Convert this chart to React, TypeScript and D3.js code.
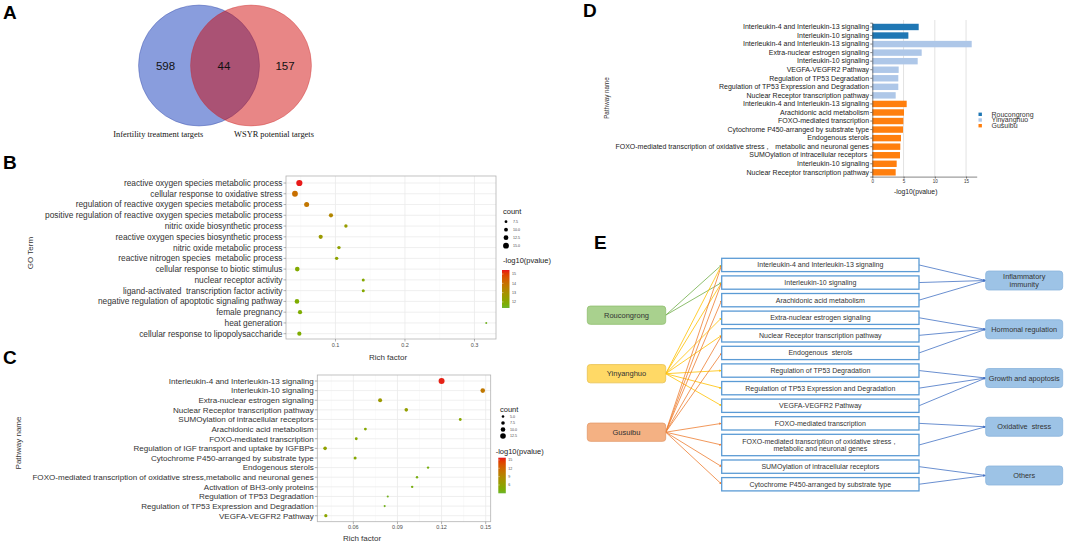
import { useEffect, useRef } from "react";
import * as d3 from "d3";

const SANS = "Arial, 'Liberation Sans', sans-serif";
const SERIF = "'Times New Roman', 'Liberation Serif', serif";

// ---------- A: Venn ----------
const vennLabels = ["Infertility treatment targets", "WSYR potential targets"];
const vennCounts = [598, 44, 157]; // left only, shared, right only

// ---------- B: GO terms ----------
const goTerms = [
	"reactive oxygen species metabolic process",
	"cellular response to oxidative stress",
	"regulation of reactive oxygen species metabolic process",
	"positive regulation of reactive oxygen species metabolic process",
	"nitric oxide biosynthetic process",
	"reactive oxygen species biosynthetic process",
	"nitric oxide metabolic process",
	"reactive nitrogen species  metabolic process",
	"cellular response to biotic stimulus",
	"nuclear receptor activity",
	"ligand-activated  transcription factor activity",
	"negative regulation of apoptotic signaling pathway",
	"female pregnancy",
	"heat generation",
	"cellular response to lipopolysaccharide",
];
const goRich = [0.048, 0.0417, 0.0585, 0.0935, 0.115, 0.0787, 0.105, 0.1017, 0.045, 0.14, 0.14, 0.0446, 0.049, 0.317, 0.048];
const goCount = [16, 15, 13, 11, 9, 11, 9, 9, 12, 8, 8, 12, 11, 5.5, 11];
const goLogP = [15.4, 14.0, 13.8, 13.3, 12.5, 12.6, 12.3, 12.2, 11.9, 12.0, 12.0, 11.8, 11.8, 11.5, 11.8];
const goCountTicks = [7.5, 10.0, 12.5, 15.0];
const goLogPTicks = [12, 13, 14, 15];

// ---------- C: pathways ----------
const pathNames = [
	"Interleukin-4 and Interleukin-13 signaling",
	"Interleukin-10 signaling",
	"Extra-nuclear estrogen signaling",
	"Nuclear Receptor transcription pathway",
	"SUMOylation of intracellular receptors",
	"Arachidonic acid metabolism",
	"FOXO-mediated transcription",
	"Regulation of IGF transport and uptake by IGFBPs",
	"Cytochrome P450-arranged by substrate type",
	"Endogenous sterols",
	"FOXO-mediated transcription of oxidative stress,metabolic and neuronal genes",
	"Activation of BH3-only proteins",
	"Regulation of TP53 Degradation",
	"Regulation of TP53 Expression and Degradation",
	"VEGFA-VEGFR2 Pathway",
];
const pathRich = [0.12, 0.148, 0.0782, 0.096, 0.1327, 0.0682, 0.062, 0.0408, 0.0612, 0.1108, 0.1033, 0.1, 0.0834, 0.0813, 0.0413];
const pathCount = [13.5, 10, 8.5, 7.5, 5.5, 5.5, 5.5, 7.5, 6, 4.5, 4.5, 4.5, 3.8, 3.8, 6.5];
const pathLogP = [15.5, 10.5, 7, 6.2, 5.2, 5, 5, 6, 5, 4, 4, 4, 3.6, 3.6, 5.5];
const pathCountTicks = [5.0, 7.5, 10.0, 12.5];
const pathLogPTicks = [6, 9, 12, 15];

// ---------- D: bars by herb ----------
const herbs = ["Roucongrong", "Yinyanghuo", "Gusuibu"];
const herbColors = ["#1f77b4", "#aec7e8", "#ff7f0e"];
const barHerb = [0, 0, 1, 1, 1, 1, 1, 1, 1, 2, 2, 2, 2, 2, 2, 2, 2, 2];
const barPathway = [
	"Interleukin-4 and Interleukin-13 signaling",
	"Interleukin-10 signaling",
	"Interleukin-4 and Interleukin-13 signaling",
	"Extra-nuclear estrogen signaling",
	"Interleukin-10 signaling",
	"VEGFA-VEGFR2 Pathway",
	"Regulation of TP53 Degradation",
	"Regulation of TP53 Expression and Degradation",
	"Nuclear Receptor transcription pathway",
	"Interleukin-4 and Interleukin-13 signaling",
	"Arachidonic acid metabolism",
	"FOXO-mediated transcription",
	"Cytochrome P450-arranged by substrate type",
	"Endogenous sterols",
	"FOXO-mediated transcription of oxidative stress，  metabolic and neuronal genes",
	"SUMOylation of intracellular receptors ",
	"Interleukin-10 signaling",
	"Nuclear Receptor transcription pathway",
];
const barValue = [7.42, 5.77, 15.9, 7.9, 7.26, 4.22, 4.16, 4.16, 3.74, 5.5, 5.07, 4.97, 4.91, 4.59, 4.48, 4.43, 3.9, 3.74];
const barTicks = [0, 5, 10, 15];

// ---------- E: network ----------
const netPathways = [
	"Interleukin-4 and Interleukin-13 signaling",
	"Interleukin-10 signaling",
	"Arachidonic acid metabolism",
	"Extra-nuclear estrogen signaling",
	"Nuclear Receptor transcription pathway",
	"Endogenous  sterols",
	"Regulation of TP53 Degradation",
	"Regulation of TP53 Expression and Degradation",
	"VEGFA-VEGFR2 Pathway",
	"FOXO-mediated transcription",
	"FOXO-mediated transcription of oxidative stress，\nmetabolic and neuronal genes",
	"SUMOylation of intracellular receptors",
	"Cytochrome P450-arranged by substrate type",
];
const netCategories = ["Inflammatory\nimmunity", "Hormonal regulation", "Growth and apoptosis", "Oxidative  stress", "Others"];
const netPathCategory = [0, 0, 0, 1, 1, 1, 2, 2, 2, 3, 3, 4, 4];
// [herb index, pathway index]
const netHerbLinks = [
	[0, 0], [0, 1],
	[1, 0], [1, 1], [1, 3], [1, 4], [1, 6], [1, 7], [1, 8],
	[2, 0], [2, 1], [2, 2], [2, 4], [2, 5], [2, 9], [2, 10], [2, 11], [2, 12],
];
const netHerbFill = ["#a9d18e", "#ffd966", "#f4b183"];
const netHerbStroke = ["#8fbf6f", "#e8c250", "#e3996a"];
const netLinkColor = ["#70ad47", "#ffc000", "#ed7d31"];

const GREEN = "#6cb52d";
const RED = "#e8151b";

const panelLabel = (svg: any, t: string, x: number, y: number) => {
	svg.append("text")
		.attr("x", x).attr("y", y)
		.text(t)
		.style("font-family", SANS)
		.style("font-weight", "bold")
		.style("font-size", "19px")
		.style("fill", "#000");
};

const drawVenn = (svg: any) => {
	const cx = d3.scaleLinear().domain([0, 1]).range([199, 251]);
	const g = svg.append("g");
	g.append("circle").attr("cx", cx(0)).attr("cy", 65.5).attr("r", 60.5)
		.attr("fill", "rgb(19,59,187)").attr("fill-opacity", 0.5)
		.attr("stroke", "rgb(60,80,170)").attr("stroke-opacity", 0.5).attr("stroke-width", 0.8);
	g.append("circle").attr("cx", cx(1)).attr("cy", 65.5).attr("r", 60.5)
		.attr("fill", "rgb(206,0,0)").attr("fill-opacity", 0.475)
		.attr("stroke", "rgb(200,40,40)").attr("stroke-opacity", 0.4).attr("stroke-width", 0.8);
	const numX = [165.5, 224, 285];
	vennCounts.forEach((c, i) => {
		g.append("text").attr("x", numX[i]).attr("y", 69.5)
			.attr("text-anchor", "middle")
			.style("font-family", SANS).style("font-size", "11.5px").style("fill", "#111")
			.text(c);
	});
	const labX = [158.3, 274];
	vennLabels.forEach((l, i) => {
		g.append("text").attr("x", labX[i]).attr("y", 137)
			.attr("text-anchor", "middle")
			.style("font-family", SERIF).style("font-size", "8.4px").style("fill", "#111")
			.text(l);
	});
};

const drawDotPlot = (svg: any, cfg: any, id: string) => {
	const g = svg.append("g");
	const x = d3.scaleLinear().domain(cfg.xDomain).range([cfg.left, cfg.right]);
	const y = d3.scalePoint<string>().domain(cfg.terms).range(cfg.rowRange);
	const color = d3.scaleLinear<string>().domain(cfg.cDomain).range([GREEN, RED]).interpolate(d3.interpolateHcl);
	const idx = d3.range(cfg.terms.length);

	g.selectAll("line.minor").data(cfg.minorTicks).join("line").attr("class", "minor")
		.attr("x1", (d: number) => x(d)).attr("x2", (d: number) => x(d))
		.attr("y1", cfg.top).attr("y2", cfg.bottom)
		.attr("stroke", "#f4f4f4").attr("stroke-width", 0.5);
	g.selectAll("line.vmajor").data(cfg.majorTicks).join("line").attr("class", "vmajor")
		.attr("x1", (d: number) => x(d)).attr("x2", (d: number) => x(d))
		.attr("y1", cfg.top).attr("y2", cfg.bottom)
		.attr("stroke", "#ebebeb").attr("stroke-width", 0.8);
	g.selectAll("line.hmajor").data(cfg.terms).join("line").attr("class", "hmajor")
		.attr("x1", cfg.left).attr("x2", cfg.right)
		.attr("y1", (d: string) => y(d)).attr("y2", (d: string) => y(d))
		.attr("stroke", "#ebebeb").attr("stroke-width", 0.8);

	g.selectAll("circle.dot").data(idx).join("circle").attr("class", "dot")
		.attr("cx", (i: number) => x(cfg.rich[i]))
		.attr("cy", (i: number) => y(cfg.terms[i]))
		.attr("r", (i: number) => cfg.rScale(cfg.count[i]))
		.attr("fill", (i: number) => color(cfg.logp[i]));

	g.append("rect")
		.attr("x", cfg.left).attr("y", cfg.top)
		.attr("width", cfg.right - cfg.left).attr("height", cfg.bottom - cfg.top)
		.attr("fill", "none").attr("stroke", "#b3b3b3").attr("stroke-width", 0.8);

	// y axis
	g.selectAll("line.yt").data(cfg.terms).join("line").attr("class", "yt")
		.attr("x1", cfg.left - 2.5).attr("x2", cfg.left)
		.attr("y1", (d: string) => y(d)).attr("y2", (d: string) => y(d))
		.attr("stroke", "#666").attr("stroke-width", 0.5);
	g.selectAll("text.yl").data(cfg.terms).join("text").attr("class", "yl")
		.attr("x", cfg.left - 3.5).attr("y", (d: string) => y(d))
		.attr("dy", "0.35em").attr("text-anchor", "end")
		.style("font-family", SANS).style("font-size", cfg.labelSize + "px")
		.style("fill", "#333").style("white-space", "pre")
		.text((d: string) => d);

	// x axis
	g.selectAll("line.xt").data(cfg.majorTicks).join("line").attr("class", "xt")
		.attr("x1", (d: number) => x(d)).attr("x2", (d: number) => x(d))
		.attr("y1", cfg.bottom).attr("y2", cfg.bottom + 2.5)
		.attr("stroke", "#666").attr("stroke-width", 0.5);
	g.selectAll("text.xl").data(cfg.majorTicks).join("text").attr("class", "xl")
		.attr("x", (d: number) => x(d)).attr("y", cfg.bottom + 7.5)
		.attr("text-anchor", "middle")
		.style("font-family", SANS).style("font-size", "5.5px").style("fill", "#4d4d4d")
		.text(cfg.tickFmt);

	g.append("text").attr("x", cfg.xTitleX).attr("y", cfg.xTitleY)
		.attr("text-anchor", "middle")
		.style("font-family", SANS).style("font-size", "8px").style("fill", "#333")
		.text("Rich factor");
	g.append("text")
		.attr("transform", `translate(${cfg.yTitleX},${cfg.yTitleY}) rotate(-90)`)
		.attr("text-anchor", "middle")
		.style("font-family", SANS).style("font-size", "8px").style("fill", "#333")
		.text(cfg.yTitle);

	// legend: count
	const L = cfg.legend;
	g.append("text").attr("x", L.x).attr("y", L.countTitleY)
		.style("font-family", SANS).style("font-size", "7.5px").style("fill", "#222")
		.text("count");
	const ly = d3.scalePoint<number>().domain(cfg.countTicks).range(L.countRange);
	g.selectAll("circle.lg").data(cfg.countTicks).join("circle").attr("class", "lg")
		.attr("cx", L.x + 3).attr("cy", (d: number) => ly(d))
		.attr("r", (d: number) => cfg.rScale(d)).attr("fill", "#000");
	g.selectAll("text.lg").data(cfg.countTicks).join("text").attr("class", "lg")
		.attr("x", L.x + 10).attr("y", (d: number) => ly(d)).attr("dy", "0.35em")
		.style("font-family", SANS).style("font-size", "3.6px").style("fill", "#444")
		.text((d: number) => d.toFixed(1));

	// legend: colour bar
	g.append("text").attr("x", L.x - L.pShift).attr("y", L.pTitleY)
		.style("font-family", SANS).style("font-size", "7.5px").style("fill", "#222")
		.text("-log10(pvalue)");
	const grad = svg.append("defs").append("linearGradient").attr("id", id)
		.attr("x1", 0).attr("y1", 1).attr("x2", 0).attr("y2", 0);
	d3.range(0, 1.0001, 0.1).forEach((t) => {
		grad.append("stop").attr("offset", t)
			.attr("stop-color", color(cfg.cDomain[0] + t * (cfg.cDomain[1] - cfg.cDomain[0])));
	});
	g.append("rect").attr("x", L.barX).attr("y", L.barTop)
		.attr("width", 7.5).attr("height", L.barBottom - L.barTop)
		.attr("fill", `url(#${id})`);
	const cy = d3.scaleLinear().domain(cfg.cDomain).range([L.barBottom, L.barTop]);
	g.selectAll("line.cb").data(cfg.logpTicks).join("line").attr("class", "cb")
		.attr("x1", L.barX).attr("x2", L.barX + 1.5)
		.attr("y1", (d: number) => cy(d)).attr("y2", (d: number) => cy(d))
		.attr("stroke", "#fff").attr("stroke-width", 0.4);
	g.selectAll("text.cb").data(cfg.logpTicks).join("text").attr("class", "cb")
		.attr("x", L.barX + 10).attr("y", (d: number) => cy(d)).attr("dy", "0.35em")
		.style("font-family", SANS).style("font-size", "3.6px").style("fill", "#444")
		.text((d: number) => d);
};

const drawBars = (svg: any) => {
	const g = svg.append("g");
	const x = d3.scaleLinear().domain([0, 16.7]).range([872.3, 976.7]);
	const y = d3.scaleBand<number>().domain(d3.range(barValue.length))
		.range([22.7, 176.6]).paddingInner(0.25).paddingOuter(0.125);

	g.selectAll("line.grid").data(barTicks.slice(1)).join("line").attr("class", "grid")
		.attr("x1", (d: number) => x(d)).attr("x2", (d: number) => x(d))
		.attr("y1", 20).attr("y2", 176.6)
		.attr("stroke", "#e2e2e2").attr("stroke-width", 1);

	g.selectAll("rect.bar").data(d3.range(barValue.length)).join("rect").attr("class", "bar")
		.attr("x", x(0)).attr("y", (i: number) => y(i))
		.attr("width", (i: number) => x(barValue[i]) - x(0))
		.attr("height", y.bandwidth())
		.attr("fill", (i: number) => herbColors[barHerb[i]]);

	const yAx = g.append("g").attr("transform", `translate(${x(0)},0)`)
		.call(d3.axisLeft(y).tickSize(2).tickPadding(1.2).tickFormat((i: number) => barPathway[i]));
	yAx.selectAll("text").style("font-family", SANS).style("font-size", "7px").style("fill", "#222").style("white-space", "pre");
	yAx.selectAll("line,path").attr("stroke", "#333").attr("stroke-width", 0.6);

	const xAx = g.append("g").attr("transform", `translate(0,176.6)`)
		.call(d3.axisBottom(x).tickValues(barTicks).tickSize(2).tickPadding(1.5).tickSizeOuter(0));
	xAx.selectAll("text").style("font-family", SANS).style("font-size", "4.5px").style("fill", "#333");
	xAx.selectAll("line,path").attr("stroke", "#333").attr("stroke-width", 0.6);

	g.append("text").attr("x", 915.7).attr("y", 194)
		.attr("text-anchor", "middle")
		.style("font-family", SANS).style("font-size", "6.8px").style("fill", "#222")
		.text("-log10(pvalue)");
	g.append("text")
		.attr("transform", `translate(608.5,98) rotate(-90)`)
		.attr("text-anchor", "middle")
		.style("font-family", SANS).style("font-size", "6.3px").style("fill", "#333")
		.text("Pathway name");

	const ly = d3.scalePoint<string>().domain(herbs).range([114.3, 125.7]);
	g.selectAll("rect.lg").data(herbs).join("rect").attr("class", "lg")
		.attr("x", 978.5).attr("y", (h: string) => ly(h)! - 1.7)
		.attr("width", 3.4).attr("height", 3.4)
		.attr("fill", (_: string, i: number) => herbColors[i]);
	g.selectAll("text.lg").data(herbs).join("text").attr("class", "lg")
		.attr("x", 991.5).attr("y", (h: string) => ly(h)).attr("dy", "0.35em")
		.style("font-family", SANS).style("font-size", "7px").style("fill", "#333")
		.text((h: string) => h);
};

const drawNetwork = (svg: any) => {
	const g = svg.append("g");
	const defs = svg.append("defs");
	const markColors = [...netLinkColor, "#4472c4"];
	markColors.forEach((c, i) => {
		defs.append("marker").attr("id", "arr" + i)
			.attr("viewBox", "0 0 10 10").attr("refX", 10).attr("refY", 5)
			.attr("markerWidth", 3).attr("markerHeight", 3).attr("orient", "auto")
			.append("path").attr("d", "M0,0L10,5L0,10z").attr("fill", c);
	});

	// middle column: slot units, a two-line box takes 1.46 slots
	const slotSize = netPathways.map((p) => 1 + (p.split("\n").length - 1) * 0.46);
	const slotStart = slotSize.map((_, i) => d3.sum(slotSize.slice(0, i)));
	const sy = d3.scaleLinear().domain([0, 1]).range([258.3, 275.9]);
	const boxGap = 4.3;
	const midL = 721.7, midR = 919;
	const boxes = netPathways.map((p, i) => {
		const top = sy(slotStart[i]);
		const h = sy(slotStart[i] + slotSize[i]) - top - boxGap;
		return { p, top, h, mid: top + h / 2 };
	});

	const hy = d3.scalePoint<string>().domain(herbs).range([315.2, 432.2]);
	const herbL = 587.3, herbW = 78.4, herbH = 18.3;
	const cy = d3.scalePoint<string>().domain(netCategories).range([280.5, 475.5]);
	const catL = 985.7, catW = 77, catH = 19;

	// herb -> pathway links
	g.selectAll("line.hl").data(netHerbLinks).join("line").attr("class", "hl")
		.attr("x1", herbL + herbW).attr("y1", (d: number[]) => hy(herbs[d[0]]))
		.attr("x2", midL).attr("y2", (d: number[]) => boxes[d[1]].mid)
		.attr("stroke", (d: number[]) => netLinkColor[d[0]]).attr("stroke-width", 0.8)
		.attr("marker-end", (d: number[]) => `url(#arr${d[0]})`);
	// pathway -> category links
	g.selectAll("line.cl").data(boxes).join("line").attr("class", "cl")
		.attr("x1", midR).attr("y1", (b: any) => b.mid)
		.attr("x2", catL).attr("y2", (_: any, i: number) => cy(netCategories[netPathCategory[i]]))
		.attr("stroke", "#4472c4").attr("stroke-width", 0.8)
		.attr("marker-end", "url(#arr3)");

	// pathway boxes
	g.selectAll("rect.pb").data(boxes).join("rect").attr("class", "pb")
		.attr("x", midL).attr("y", (b: any) => b.top)
		.attr("width", midR - midL).attr("height", (b: any) => b.h)
		.attr("fill", "#fff").attr("stroke", "#5b9bd5").attr("stroke-width", 1.3);
	boxes.forEach((b) => {
		const lines = b.p.split("\n");
		const t = g.append("text").attr("x", (midL + midR) / 2).attr("y", b.mid)
			.attr("text-anchor", "middle")
			.style("font-family", SANS).style("font-size", "7px").style("fill", "#333").style("white-space", "pre");
		lines.forEach((l, k) => {
			t.append("tspan").attr("x", (midL + midR) / 2)
				.attr("dy", k === 0 ? `${0.35 - (lines.length - 1) * 0.55}em` : "1.1em")
				.text(l);
		});
	});

	// herb boxes
	herbs.forEach((h, i) => {
		g.append("rect").attr("x", herbL).attr("y", hy(h)! - herbH / 2)
			.attr("width", herbW).attr("height", herbH).attr("rx", 3)
			.attr("fill", netHerbFill[i]).attr("stroke", netHerbStroke[i]).attr("stroke-width", 0.8);
		g.append("text").attr("x", herbL + herbW / 2).attr("y", hy(h)).attr("dy", "0.35em")
			.attr("text-anchor", "middle")
			.style("font-family", SANS).style("font-size", "7.5px").style("fill", "#333")
			.text(h);
	});

	// category boxes
	netCategories.forEach((c) => {
		g.append("rect").attr("x", catL).attr("y", cy(c)! - catH / 2)
			.attr("width", catW).attr("height", catH).attr("rx", 3)
			.attr("fill", "#9dc3e6").attr("stroke", "#8ab4dc").attr("stroke-width", 0.8);
		const lines = c.split("\n");
		const t = g.append("text").attr("x", catL + catW / 2).attr("y", cy(c))
			.attr("text-anchor", "middle")
			.style("font-family", SANS).style("font-size", "7.3px").style("fill", "#333").style("white-space", "pre");
		lines.forEach((l, k) => {
			t.append("tspan").attr("x", catL + catW / 2)
				.attr("dy", k === 0 ? `${0.35 - (lines.length - 1) * 0.55}em` : "1.1em")
				.text(l);
		});
	});
};

export default function App() {
	const ref = useRef<SVGSVGElement>(null);

	useEffect(() => {
		const svg = d3.select(ref.current);
		svg.selectAll("*").remove();

		panelLabel(svg, "A", 3, 18.5);
		panelLabel(svg, "B", 3, 168.5);
		panelLabel(svg, "C", 3, 364);
		panelLabel(svg, "D", 583, 17);
		panelLabel(svg, "E", 594, 248.5);

		drawVenn(svg);

		drawDotPlot(svg, {
			terms: goTerms, rich: goRich, count: goCount, logp: goLogP,
			left: 286, right: 496, top: 176, bottom: 339,
			xDomain: [0.0288, 0.331], rowRange: [183, 333.7],
			majorTicks: [0.1, 0.2, 0.3], minorTicks: [0.05, 0.15, 0.25],
			tickFmt: d3.format(".1f"),
			rScale: d3.scaleLinear().domain([5, 16]).range([0.9, 3.1]),
			cDomain: [11.35, 15.43],
			countTicks: goCountTicks, logpTicks: goLogPTicks,
			labelSize: 8.35, yTitle: "GO Term", yTitleX: 32.5, yTitleY: 253,
			xTitleX: 388, xTitleY: 359.5,
			legend: { x: 503, countTitleY: 213.5, countRange: [221.7, 245.7], pShift: 0, pTitleY: 263, barX: 502, barTop: 270, barBottom: 308 },
		}, "gradB");

		drawDotPlot(svg, {
			terms: pathNames, rich: pathRich, count: pathCount, logp: pathLogP,
			left: 317.3, right: 490.7, top: 375, bottom: 521.7,
			xDomain: [0.0355, 0.1534], rowRange: [381, 515.7],
			majorTicks: [0.06, 0.09, 0.12, 0.15], minorTicks: [0.045, 0.075, 0.105, 0.135],
			tickFmt: d3.format(".2f"),
			rScale: d3.scaleLinear().domain([3.5, 14]).range([1.0, 3.1]),
			cDomain: [3, 15.8],
			countTicks: pathCountTicks, logpTicks: pathLogPTicks,
			labelSize: 8.05, yTitle: "Pathway name", yTitleX: 20.5, yTitleY: 443,
			xTitleX: 362, xTitleY: 540.5,
			legend: { x: 500, countTitleY: 411.5, countRange: [416.5, 436], pShift: 4.3, pTitleY: 453.5, barX: 498.3, barTop: 457.7, barBottom: 493.3 },
		}, "gradC");

		drawBars(svg);
		drawNetwork(svg);
	}, []);

	return (
		<svg
			ref={ref}
			width={1065}
			height={544}
			style={{ position: "absolute", left: 0, top: 0, background: "#fff" }}
		/>
	);
}
